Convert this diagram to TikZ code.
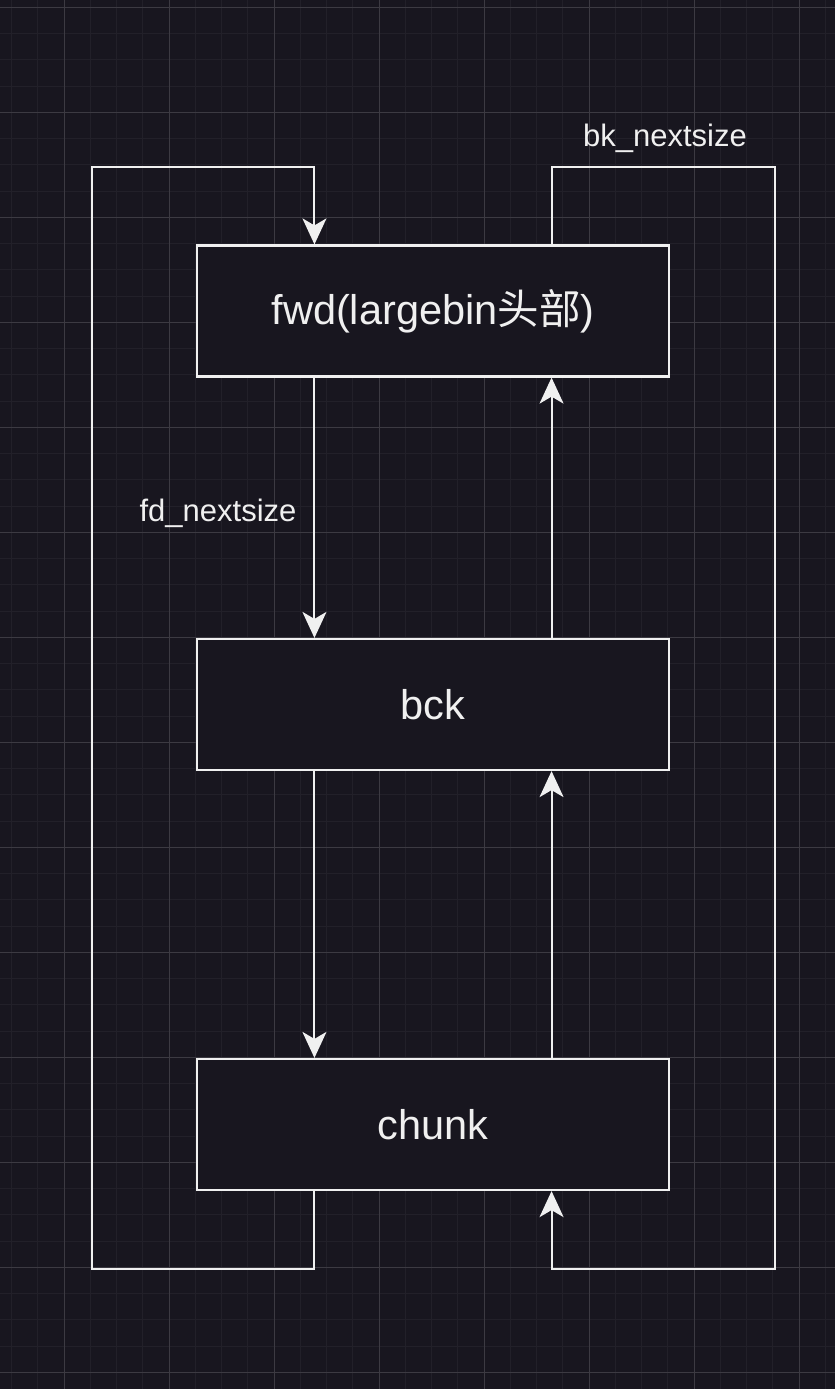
\documentclass[tikz,border=0pt]{standalone}
\usepackage{fontspec}
\setmainfont{Liberation Sans}
\newfontfamily\cjk{Noto Sans CJK SC}
\usepackage{tikz}
\usetikzlibrary{arrows.meta,calc}
\definecolor{binback}{RGB}{24, 22, 31}
\definecolor{binminor}{RGB}{34, 32, 41}
\definecolor{binmajor}{RGB}{60, 58, 66}
\definecolor{binline}{RGB}{240, 240, 240}

\begin{document}
\begin{tikzpicture}[
    x=1pt,
    y=-1pt,
    box/.style={draw=binline, fill=binback, line width=2.2pt, minimum width=472pt,
        minimum height=131pt, text=binline, font=\fontsize{41.5}{48}\selectfont},
    link/.style={draw=binline, line width=2pt,
        -{Stealth[length=26pt, width=24pt, inset=7pt]}},
    lbl/.style={text=binline, font=\fontsize{31}{36}\selectfont}
]
    % Background and grid
    \fill[binback] (0,0) rectangle (835,1389);
    \useasboundingbox (0,0) rectangle (835,1389);
    \foreach \k in {0,...,32} {
        \draw[binminor, line width=1pt] (11.5+26.25*\k,0) -- (11.5+26.25*\k,1389);
    }
    \foreach \k in {0,...,53} {
        \draw[binminor, line width=1pt] (0,7.3+26.25*\k) -- (835,7.3+26.25*\k);
    }
    \foreach \k in {0,...,7} {
        \draw[binmajor, line width=1pt] (64+105*\k,0) -- (64+105*\k,1389);
    }
    \foreach \k in {0,...,13} {
        \draw[binmajor, line width=1pt] (0,7.3+105*\k) -- (835,7.3+105*\k);
    }

    % Chunks
    \node[box] (fwd) at (433,311) {fwd(largebin{\cjk 头部})};
    \node[box] (bck) at (433,704.5) {bck};
    \node[box] (chunk) at (433,1124.5) {chunk};

    % Loop corners
    \coordinate (lbot) at (92,1269);
    \coordinate (ltop) at (92,167);
    \coordinate (rtop) at (775,167);
    \coordinate (rbot) at (775,1269);

    % fd_nextsize (down)
    \draw[link] ($(fwd.south west)!0.25!(fwd.south east)$) -- ($(bck.north west)!0.25!(bck.north east)$);
    \draw[link] ($(bck.south west)!0.25!(bck.south east)$) -- ($(chunk.north west)!0.25!(chunk.north east)$);
    \draw[link] ($(chunk.south west)!0.25!(chunk.south east)$) |- (lbot) |- (ltop)
        -| ($(fwd.north west)!0.25!(fwd.north east)$);

    % bk_nextsize (up)
    \draw[link] ($(chunk.north west)!0.75!(chunk.north east)$) -- ($(bck.south west)!0.75!(bck.south east)$);
    \draw[link] ($(bck.north west)!0.75!(bck.north east)$) -- ($(fwd.south west)!0.75!(fwd.south east)$);
    \draw[link] ($(fwd.north west)!0.75!(fwd.north east)$) |- (rtop) |- (rbot)
        -| ($(chunk.south west)!0.75!(chunk.south east)$);

    % Labels
    \node[lbl] (fdlabel) at (218,513) {fd\_nextsize};
    \node[lbl] (bklabel) at (665,138) {bk\_nextsize};
\end{tikzpicture}
\end{document}
